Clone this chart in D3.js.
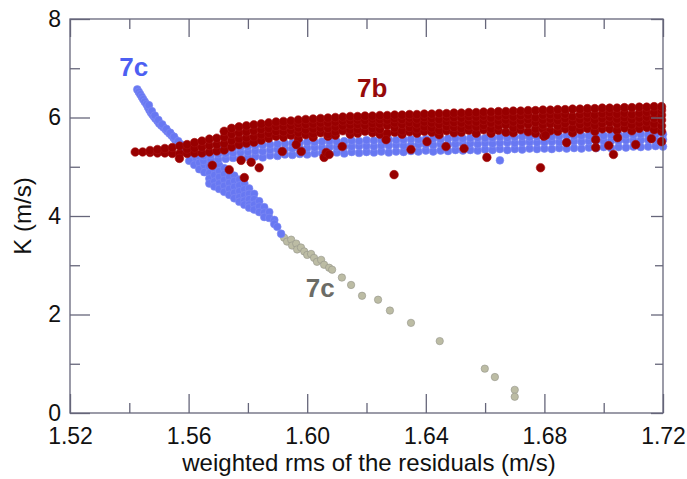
<!DOCTYPE html>
<html><head><meta charset="utf-8">
<script src="https://cdn.jsdelivr.net/npm/d3@7"></script>
<style>html,body{margin:0;padding:0;background:#fff;} svg{display:block;}</style>
</head><body>
<svg id="chart" width="687" height="479"></svg>
<script>
// ---- tick values / labels ----
const xTicks = [1.52, 1.56, 1.60, 1.64, 1.68, 1.72];
const xTickLabels = ["1.52", "1.56", "1.60", "1.64", "1.68", "1.72"];
const xMinor = [1.54, 1.58, 1.62, 1.66, 1.70];
const yTicks = [0, 2, 4, 6, 8];
const yTickLabels = ["0", "2", "4", "6", "8"];
const yMinor = [1, 3, 5, 7];
const xTitle = "weighted rms of the residuals (m/s)";
const yTitle = "K (m/s)";

// ---- series 7c (blue): upper arm ----
const blueArm = [[1.5427,6.57],[1.5432,6.52],[1.5437,6.47],[1.5442,6.42],[1.5447,6.37],[1.5452,6.32],[1.5458,6.27],
  [1.5463,6.21],[1.5468,6.15],[1.5473,6.10],[1.5478,6.06],[1.5483,6.02],[1.5488,5.98],[1.5495,5.93],[1.5501,5.88],
  [1.5508,5.84],[1.5515,5.80],[1.5522,5.76],[1.5528,5.72],[1.5535,5.68],[1.5542,5.64],[1.5549,5.59],[1.5555,5.55],
  [1.5562,5.51],[1.5569,5.47],[1.5576,5.43],[1.5582,5.39],[1.5589,5.35],[1.5596,5.31],[1.5603,5.27],[1.5609,5.23],
  [1.5616,5.19],[1.5623,5.15],
  [1.5466,6.25],[1.5476,6.13],[1.5486,6.04],[1.5498,5.95],[1.5511,5.86],[1.5525,5.77],[1.5538,5.69],[1.5551,5.61],
  [1.5565,5.52],[1.5578,5.44],[1.5592,5.36],[1.5605,5.28],[1.5602,5.12],[1.5619,5.04]];
// ---- series 7c (blue): descending branch, columns [x, [K...]] ----
const blueBranch = [
  [1.5636,[5.21,5.08,4.95]],[1.5653,[5.17,5.03,4.89]],[1.5670,[5.13,5.00,4.87,4.76,4.66]],
  [1.5687,[5.09,4.96,4.83,4.70,4.60]],[1.5703,[5.03,4.91,4.79,4.66,4.55]],[1.5720,[4.97,4.85,4.73,4.61,4.49]],
  [1.5737,[4.91,4.79,4.67,4.55,4.43]],[1.5754,[4.82,4.71,4.59,4.47,4.36]],[1.5771,[4.74,4.62,4.50,4.38,4.29]],
  [1.5788,[4.66,4.54,4.42,4.31,4.23]],[1.5804,[4.56,4.45,4.34,4.23,4.17]],[1.5821,[4.45,4.34,4.23,4.13]],
  [1.5838,[4.30,4.19,4.08]],[1.5855,[4.18,4.07,3.98]],[1.5872,[4.08,3.96]],[1.5889,[3.92,3.84]],
  [1.5899,[3.78]],[1.5912,[3.64]]];
// ---- series 7c (blue): flat band ----
const blueBand = [
  [1.5650,[5.12,5.22]],[1.5675,[5.14,5.24]],[1.5700,[5.15,5.26,5.36]],[1.5725,[5.16,5.27,5.37]],
  [1.5750,[5.18,5.28,5.38]],[1.5775,[5.17,5.29,5.40]],[1.5800,[5.20,5.30,5.41]],[1.5825,[5.21,5.32,5.43]],
  [1.5850,[5.19,5.31,5.44]],[1.5875,[5.23,5.34,5.45]],[1.5900,[5.22,5.35,5.46]],[1.5925,[5.25,5.36,5.47]],
  [1.5950,[5.24,5.37,5.48]],[1.5975,[5.26,5.37,5.49]],[1.6000,[5.25,5.38,5.50]],[1.6025,[5.27,5.39,5.50]],
  [1.6050,[5.28,5.39,5.51]],[1.6075,[5.26,5.40,5.52]],[1.6100,[5.29,5.40,5.51]],[1.6125,[5.27,5.41,5.52]],
  [1.6150,[5.30,5.41,5.53]],[1.6175,[5.28,5.42,5.52]],[1.6200,[5.30,5.42,5.54]],[1.6225,[5.29,5.41,5.53]],
  [1.6250,[5.31,5.43,5.54]],[1.6275,[5.29,5.43,5.55]],[1.6300,[5.31,5.44,5.54]],[1.6325,[5.30,5.43,5.55]],
  [1.6350,[5.32,5.44,5.56]],[1.6375,[5.31,5.45,5.55]],[1.6400,[5.33,5.45,5.56]],[1.6425,[5.31,5.44,5.57]],
  [1.6450,[5.33,5.46,5.56]],[1.6475,[5.32,5.45,5.57]],[1.6500,[5.34,5.46,5.58]],[1.6525,[5.33,5.47,5.57]],
  [1.6550,[5.34,5.47,5.58]],[1.6575,[5.33,5.46,5.59]],[1.6600,[5.35,5.48,5.58]],[1.6625,[5.34,5.47,5.59]],
  [1.6650,[5.36,5.48,5.60]],[1.6675,[5.34,5.49,5.59]],[1.6700,[5.36,5.48,5.60]],[1.6725,[5.35,5.49,5.61]],
  [1.6750,[5.37,5.50,5.60]],[1.6775,[5.36,5.49,5.61]],[1.6800,[5.37,5.50,5.62]],[1.6825,[5.36,5.51,5.61]],
  [1.6850,[5.38,5.50,5.62]],[1.6875,[5.37,5.51,5.63]],[1.6900,[5.38,5.52,5.62]],[1.6925,[5.37,5.51,5.63]],
  [1.6950,[5.39,5.52,5.63]],[1.6975,[5.38,5.53,5.64]],[1.7000,[5.40,5.52,5.63]],[1.7025,[5.38,5.53,5.64]],
  [1.7050,[5.40,5.53,5.65]],[1.7075,[5.39,5.54,5.64]],[1.7100,[5.41,5.53,5.65]],[1.7125,[5.40,5.54,5.66]],
  [1.7150,[5.41,5.55,5.65]],[1.7175,[5.42,5.54,5.66]],[1.7200,[5.41,5.55,5.66]]];
const blueOut = [[1.6650,5.13]];

// ---- series 7c (grey tail) ----
const greyTail = [[1.5922,3.56],[1.5932,3.48],[1.5946,3.52],[1.5949,3.40],[1.5963,3.44],[1.5966,3.32],
  [1.5979,3.36],[1.5990,3.28],[1.6000,3.21],[1.6013,3.23],[1.6023,3.15],[1.6033,3.07],[1.6047,3.11],
  [1.6057,3.01],[1.6074,2.95],[1.6084,2.91],[1.6117,2.75],[1.6148,2.60],[1.6185,2.38],[1.6239,2.30],
  [1.6279,2.08],[1.6350,1.83],[1.6447,1.46],[1.6599,0.90],[1.6633,0.73],[1.6700,0.47],[1.6700,0.33]];

// ---- series 7b (dark red): band, columns [x, [K...]] ----
const redBand = [
  [1.5420,[5.30]],[1.5445,[5.30]],[1.5470,[5.29,5.33]],[1.5495,[5.28,5.35]],[1.5520,[5.28,5.37]],
  [1.5545,[5.27,5.39]],[1.5570,[5.27,5.42]],[1.5595,[5.27,5.36,5.45]],[1.5620,[5.28,5.38,5.49]],
  [1.5645,[5.28,5.40,5.52]],[1.5670,[5.30,5.43,5.56]],[1.5695,[5.32,5.45,5.58]],[1.5720,[5.34,5.47,5.60,5.72]],
  [1.5745,[5.40,5.53,5.66,5.78]],[1.5770,[5.45,5.57,5.69,5.81]],[1.5795,[5.48,5.59,5.71,5.83]],
  [1.5820,[5.50,5.61,5.73,5.85]],[1.5845,[5.54,5.65,5.76,5.87]],[1.5870,[5.58,5.68,5.78,5.89]],
  [1.5895,[5.62,5.72,5.82,5.91]],[1.5920,[5.60,5.71,5.82,5.92]],[1.5945,[5.64,5.74,5.84,5.93]],
  [1.5970,[5.57,5.69,5.79,5.88,5.95]],[1.5995,[5.65,5.75,5.86,5.96]],[1.6020,[5.60,5.67,5.77,5.87,5.97]],
  [1.6045,[5.69,5.79,5.89,5.98]],[1.6070,[5.62,5.66,5.78,5.89,5.99]],[1.6095,[5.64,5.71,5.81,5.91,6.00]],
  [1.6120,[5.73,5.83,5.93,6.01]],[1.6145,[5.66,5.75,5.85,5.94,6.02]],[1.6170,[5.68,5.76,5.86,5.95,6.02]],
  [1.6195,[5.72,5.84,5.94,6.03]],[1.6220,[5.69,5.78,5.88,5.97,6.03]],[1.6245,[5.66,5.76,5.87,5.96,6.04]],
  [1.6270,[5.68,5.84,5.95,6.04]],[1.6295,[5.70,5.79,5.89,5.98,6.05]],[1.6320,[5.66,5.73,5.86,5.96,6.05]],
  [1.6345,[5.71,5.80,5.90,5.99,6.06]],[1.6370,[5.68,5.77,5.87,5.97,6.06]],[1.6395,[5.72,5.81,5.91,6.00,6.07]],
  [1.6420,[5.70,5.79,5.89,5.98,6.07]],[1.6445,[5.65,5.74,5.86,5.96,6.08]],[1.6470,[5.73,5.82,5.92,6.01,6.08]],
  [1.6495,[5.69,5.80,5.90,6.00,6.09]],[1.6520,[5.70,5.78,5.89,5.99,6.09]],[1.6545,[5.74,5.83,5.93,6.02,6.10]],
  [1.6570,[5.68,5.81,5.91,6.01,6.10]],[1.6595,[5.75,5.84,5.94,6.03,6.11]],[1.6620,[5.68,5.77,5.89,5.99,6.11]],
  [1.6645,[5.74,5.83,5.93,6.03,6.12]],[1.6670,[5.70,5.85,5.95,6.04,6.12]],[1.6695,[5.69,5.79,5.91,6.01,6.13]],
  [1.6720,[5.75,5.84,5.94,6.04,6.13]],[1.6745,[5.71,5.86,5.96,6.05,6.14]],[1.6770,[5.68,5.77,5.90,6.00,6.14]],
  [1.6795,[5.76,5.85,5.95,6.05,6.15]],[1.6820,[5.73,5.87,5.97,6.06,6.15]],[1.6845,[5.72,5.83,5.94,6.04,6.16]],
  [1.6870,[5.77,5.88,5.98,6.07,6.16]],[1.6895,[5.69,5.79,5.92,6.02,6.17]],[1.6920,[5.75,5.86,5.96,6.06,6.17]],
  [1.6945,[5.78,5.89,5.99,6.08,6.18]],[1.6970,[5.72,5.84,5.95,6.05,6.18]],[1.6995,[5.77,5.88,5.98,6.08,6.19]],
  [1.7020,[5.77,5.90,6.01,6.10,6.19]],[1.7045,[5.74,5.87,5.97,6.07,6.19]],[1.7070,[5.79,5.90,6.00,6.09,6.20]],
  [1.7095,[5.73,5.85,5.96,6.06,6.20]],[1.7120,[5.78,5.89,5.99,6.09,6.21]],[1.7145,[5.80,5.91,6.01,6.11,6.21]],
  [1.7170,[5.75,5.87,5.99,6.10,6.22]],[1.7195,[5.72,5.83,5.95,6.05,6.15,6.22]]];
// ---- series 7b (dark red): stray points ----
const redOut = [[1.5569,5.17],[1.5680,5.03],[1.5737,4.94],[1.5777,5.13],[1.5788,4.78],[1.5811,5.09],
  [1.5838,4.98],[1.5916,5.31],[1.5963,5.45],[1.5980,5.31],[1.6057,5.19],[1.6064,5.29],[1.6074,5.25],
  [1.6118,5.41],[1.6266,5.55],[1.6293,4.84],[1.6350,5.35],[1.6404,5.51],[1.6468,5.41],[1.6529,5.37],
  [1.6606,5.19],[1.6787,4.98],[1.6798,5.62],[1.6804,5.64],[1.6875,5.49],[1.6973,5.39],[1.6973,5.55],
  [1.7017,5.43],[1.7033,5.25],[1.7047,5.59],[1.7108,5.45],[1.7161,5.57],[1.7195,5.51]];

// ---- annotation labels (data coords) ----
const labels = [
  {text: "7c", x: 1.5366, y: 6.84, color: "#4d5ff2"},
  {text: "7b", x: 1.6168, y: 6.42, color: "#960a0a"},
  {text: "7c", x: 1.5995, y: 2.36, color: "#6c6c66"}];

// ---- drawing ----
const L = 70, R = 663, T = 19, B = 413;
const svg = d3.select("#chart");
const x = d3.scaleLinear().domain([1.52, 1.72]).range([L, R]);
const y = d3.scaleLinear().domain([0, 8]).range([B, T]);
const FONT = "'Liberation Sans', Arial, Helvetica, sans-serif";
const AX = "#66667a";

function flat(cols) { return cols.flatMap(([xv, ys]) => ys.map(v => [xv, v])); }

function dots(data, r, fill, stroke) {
  svg.append("g").selectAll("circle").data(data).join("circle")
    .attr("cx", d => x(d[0])).attr("cy", d => y(d[1])).attr("r", r)
    .attr("fill", fill).attr("stroke", stroke).attr("stroke-width", 0.6);
}

dots(greyTail, 3.7, "#bcbca4", "#94948a");
dots(blueArm.concat(flat(blueBranch), flat(blueBand), blueOut), 3.9, "#6878f2", "#7f8cf4");
dots(flat(redBand).concat(redOut), 4.3, "#980000", "#a81010");

// axes
function styleAxis(g) {
  g.select(".domain").remove();
  g.selectAll(".tick line").attr("stroke", AX).attr("stroke-width", 1.3);
  g.selectAll("text").attr("font-family", FONT).attr("font-size", 23).attr("fill", "#111");
}
svg.append("g").attr("transform", `translate(0,${B})`)
  .call(d3.axisBottom(x).tickValues(xTicks).tickFormat((d, i) => xTickLabels[i]).tickSize(-19).tickPadding(15)).call(styleAxis);
svg.append("g").attr("transform", `translate(0,${B})`)
  .call(d3.axisBottom(x).tickValues(xMinor).tickFormat("").tickSize(-10)).call(styleAxis);
svg.append("g").attr("transform", `translate(0,${T})`)
  .call(d3.axisTop(x).tickValues(xTicks).tickFormat("").tickSize(-18)).call(styleAxis);
svg.append("g").attr("transform", `translate(0,${T})`)
  .call(d3.axisTop(x).tickValues(xMinor).tickFormat("").tickSize(-10)).call(styleAxis);
svg.append("g").attr("transform", `translate(${L},0)`)
  .call(d3.axisLeft(y).tickValues(yTicks).tickFormat((d, i) => yTickLabels[i]).tickSize(-20).tickPadding(9)).call(styleAxis);
svg.append("g").attr("transform", `translate(${L},0)`)
  .call(d3.axisLeft(y).tickValues(yMinor).tickFormat("").tickSize(-10)).call(styleAxis);
svg.append("g").attr("transform", `translate(${R},0)`)
  .call(d3.axisRight(y).tickValues(yTicks).tickFormat("").tickSize(-12)).call(styleAxis);
svg.append("g").attr("transform", `translate(${R},0)`)
  .call(d3.axisRight(y).tickValues(yMinor).tickFormat("").tickSize(-8)).call(styleAxis);

svg.append("rect").attr("x", L).attr("y", T).attr("width", R - L).attr("height", B - T)
  .attr("fill", "none").attr("stroke", AX).attr("stroke-width", 1.3);

// titles
svg.append("text").attr("x", 369).attr("y", 471).attr("text-anchor", "middle")
  .attr("font-family", FONT).attr("font-size", 24).attr("fill", "#111").text(xTitle);
svg.append("text").attr("transform", `translate(31,216) rotate(-90)`).attr("text-anchor", "middle")
  .attr("font-family", FONT).attr("font-size", 24).attr("fill", "#111").text(yTitle);

// series labels
svg.append("g").selectAll("text").data(labels).join("text")
  .attr("x", d => x(d.x)).attr("y", d => y(d.y))
  .attr("font-family", FONT).attr("font-weight", "bold").attr("font-size", 26)
  .attr("fill", d => d.color).text(d => d.text);
</script>
</body></html>
